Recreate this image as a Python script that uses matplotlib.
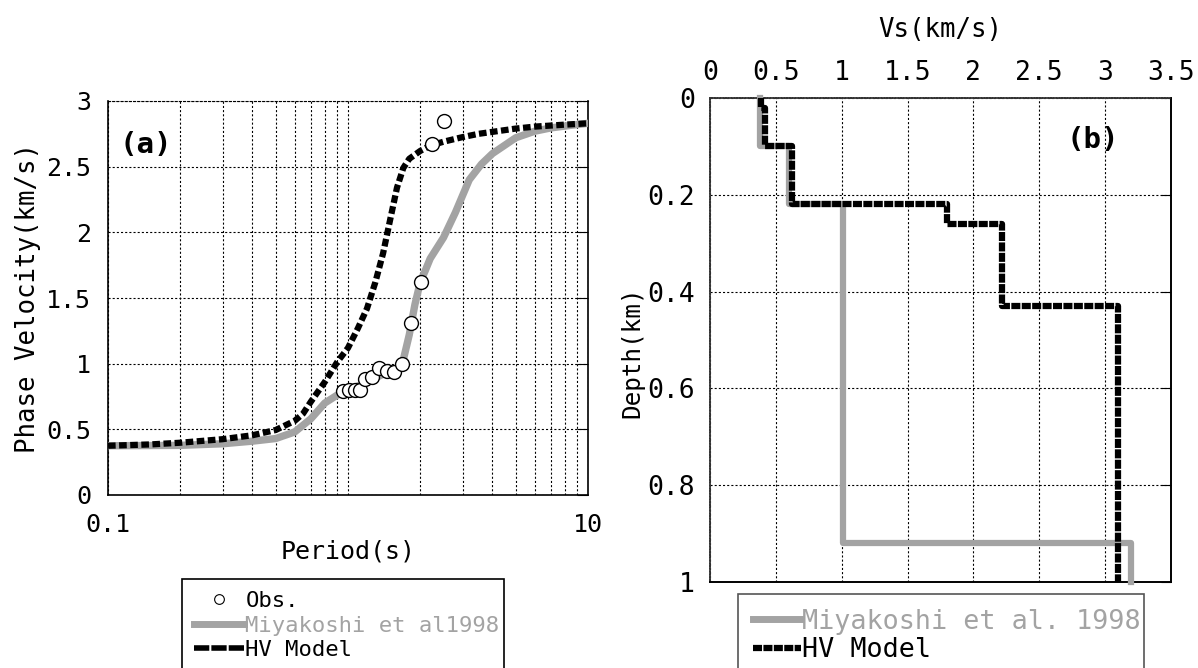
import matplotlib
matplotlib.use("Agg")
import matplotlib.pyplot as plt
from matplotlib.lines import Line2D
import numpy as np

plt.rcParams["font.family"] = "DejaVu Sans Mono"
plt.rcParams["lines.scale_dashes"] = False

GRAY = "#a3a3a3"

# (a) phase velocity dispersion
obs_period = [0.95, 1.01, 1.07, 1.12, 1.18, 1.26, 1.34, 1.45, 1.56, 1.68, 1.83, 2.02, 2.23, 2.50]
obs_vel = [0.79, 0.80, 0.80, 0.80, 0.885, 0.895, 0.965, 0.944, 0.934, 0.995, 1.31, 1.62, 2.67, 2.85]

miya_period = [0.1, 0.2, 0.3, 0.4, 0.5, 0.6, 0.7, 0.8, 0.9, 1.0, 1.1, 1.2, 1.4, 1.6, 1.7,
               1.8, 1.9, 2.0, 2.1, 2.2, 2.5, 2.8, 3.2, 3.6, 4.0, 5.0, 6.0, 7.0, 8.5, 10]
miya_vel = [0.375, 0.378, 0.39, 0.41, 0.43, 0.48, 0.58, 0.70, 0.76, 0.80, 0.83, 0.86, 0.92, 0.97, 1.03,
            1.22, 1.45, 1.62, 1.71, 1.80, 1.96, 2.15, 2.40, 2.52, 2.60, 2.72, 2.77, 2.795, 2.815, 2.83]

hv_period = [0.1, 0.15, 0.2, 0.3, 0.4, 0.5, 0.6, 0.65, 0.7, 0.8, 0.9, 1.0, 1.1, 1.2, 1.3,
             1.4, 1.5, 1.6, 1.7, 1.8, 2.0, 2.2, 2.5, 3.0, 3.5, 4.0, 5.0, 6.0, 8.0, 10]
hv_vel = [0.375, 0.385, 0.398, 0.425, 0.455, 0.495, 0.565, 0.62, 0.71, 0.86, 1.01, 1.12, 1.27, 1.42, 1.62,
          1.84, 2.10, 2.34, 2.49, 2.56, 2.62, 2.66, 2.69, 2.725, 2.75, 2.765, 2.79, 2.805, 2.82, 2.83]

# (b) Vs structure: layer velocity and layer top depth, half-space down to 1 km
miya_vs = [0.38, 0.60, 1.01, 3.20]
miya_top = [0.0, 0.10, 0.22, 0.92]
hv_vs = [0.39, 0.42, 0.62, 1.80, 2.22, 3.10]
hv_top = [0.0, 0.02, 0.10, 0.22, 0.26, 0.43]
max_depth = 1.0


def step_profile(vs, top):
    bottom = list(top[1:]) + [max_depth]
    x = np.repeat(vs, 2)
    y = np.ravel(np.column_stack([top, bottom]))
    return x, y


fig = plt.figure(figsize=(11.98, 6.68), dpi=100)
W, H = 1198, 668
ax1 = fig.add_axes([108 / W, (H - 495) / H, 480 / W, 394 / H])
ax2 = fig.add_axes([710 / W, (H - 582) / H, 461 / W, 484 / H])

grid_style = dict(color="black", linestyle=(0, (1.5, 1.5)), linewidth=0.8)

# ---- (a)
ax1.set_xscale("log")
ax1.set_xlim(0.1, 10)
ax1.set_ylim(0, 3)
ax1.plot(miya_period, miya_vel, color=GRAY, lw=5.3, solid_joinstyle="round", zorder=3)
ax1.plot(hv_period, hv_vel, color="black", lw=4.5, dashes=(5.5, 2.5), zorder=4)
ax1.plot(obs_period, obs_vel, "o", ms=10, mfc="white", mec="black", mew=1, zorder=5)

ax1.set_xticks([0.1, 1, 10], labels=["0.1", "", "10"])
ax1.set_xticks([k * d for d in (0.1, 1) for k in range(2, 10)], minor=True)
ax1.xaxis.set_minor_formatter(plt.NullFormatter())
ax1.set_yticks(np.arange(0, 3.01, 0.5), labels=["0", "0.5", "1", "1.5", "2", "2.5", "3"])
ax1.tick_params(axis="x", which="both", length=0, pad=13, labelsize=18)
ax1.tick_params(axis="y", which="major", left=False, right=True, direction="in",
                length=8, pad=12, labelsize=18)
ax1.grid(True, axis="x", which="both", **grid_style)
ax1.grid(True, axis="y", which="major", **grid_style)
ax1.spines["top"].set_linestyle((0, (1.5, 1.5)))
ax1.spines["top"].set_linewidth(0.8)
for s in ("left", "bottom", "right"):
    ax1.spines[s].set_linewidth(1.2)

ax1.set_xlabel("Period(s)", fontsize=18, va="center", ha="center")
ax1.xaxis.set_label_coords(0.5, (495 - 552) / 394)
ax1.set_ylabel("Phase Velocity(km/s)", fontsize=18.5, va="center", ha="center")
ax1.yaxis.set_label_coords((28 - 108) / 480, 0.5)
ax1.text(0.079, 0.888, "(a)", transform=ax1.transAxes, fontsize=21,
         fontweight="bold", ha="center", va="center")

# ---- (b)
mx, my = step_profile(miya_vs, miya_top)
hx, hy = step_profile(hv_vs, hv_top)
ax2.plot(mx, my, color=GRAY, lw=4.5, solid_capstyle="projecting", clip_on=False, zorder=3)
ax2.plot(hx, hy, color="black", lw=4.5, dashes=(6.5, 1.0), clip_on=False, zorder=4)

ax2.set_xlim(0, 3.5)
ax2.set_ylim(1, 0)
ax2.xaxis.tick_top()
ax2.xaxis.set_label_position("top")
ax2.set_xticks(np.arange(0, 3.51, 0.5), labels=["0", "0.5", "1", "1.5", "2", "2.5", "3", "3.5"])
ax2.set_yticks(np.arange(0, 1.01, 0.2), labels=["0", "0.2", "0.4", "0.6", "0.8", "1"])
ax2.tick_params(axis="x", length=0, pad=9, labelsize=19)
ax2.tick_params(axis="y", left=False, right=True, direction="in", length=7, pad=11, labelsize=19)
ax2.grid(True, **grid_style)
for s in ("left", "top"):
    ax2.spines[s].set_linestyle((0, (1, 1)))
    ax2.spines[s].set_color("#333333")
    ax2.spines[s].set_linewidth(1.3)
for s in ("right", "bottom"):
    ax2.spines[s].set_linewidth(1.4)

ax2.set_xlabel("Vs(km/s)", fontsize=18.5, va="center", ha="center")
ax2.xaxis.set_label_coords(0.5, (582 - 30) / 484)
ax2.set_ylabel("Depth(km)", fontsize=17.5, va="center", ha="center")
ax2.yaxis.set_label_coords((632 - 710) / 461, (582 - 352) / 484)
ax2.text(0.831, 0.913, "(b)", transform=ax2.transAxes, fontsize=21,
         fontweight="bold", ha="center", va="center")

# ---- legends below each panel
h_obs = Line2D([], [], ls="none", marker="o", ms=7, mfc="white", mec="black", mew=0.8)
h_miya1 = Line2D([], [], color=GRAY, lw=5)
h_hv1 = Line2D([], [], color="black", lw=4, dashes=(11, 1.5))
leg1 = fig.legend([h_obs, h_miya1, h_hv1], ["Obs.", "Miyakoshi et al1998", "HV Model"],
                  loc="upper left", bbox_to_anchor=(182 / W, 0, 322 / W, 1 - 579 / H),
                  mode="expand", fontsize=16, fancybox=False, edgecolor="black",
                  handlelength=2.25, handletextpad=0.05, labelspacing=0.2,
                  borderpad=0.55, borderaxespad=0, framealpha=1)
leg1.get_frame().set_linewidth(1.2)
leg1.get_texts()[1].set_color(GRAY)

h_miya2 = Line2D([], [], color=GRAY, lw=5)
h_hv2 = Line2D([], [], color="black", lw=4.5, dashes=(6.5, 1.0))
leg2 = fig.legend([h_miya2, h_hv2], ["Miyakoshi et al. 1998", "HV Model"],
                  loc="upper left", bbox_to_anchor=(738 / W, 0, 406 / W, 1 - 594 / H),
                  mode="expand", fontsize=19.3, fancybox=False, edgecolor="#555555",
                  handlelength=1.8, handletextpad=0.05, labelspacing=0.1,
                  borderpad=0.55, borderaxespad=0, framealpha=1)
leg2.get_frame().set_linewidth(1.2)
leg2.get_texts()[0].set_color(GRAY)

fig.savefig("out.png", dpi=100)
